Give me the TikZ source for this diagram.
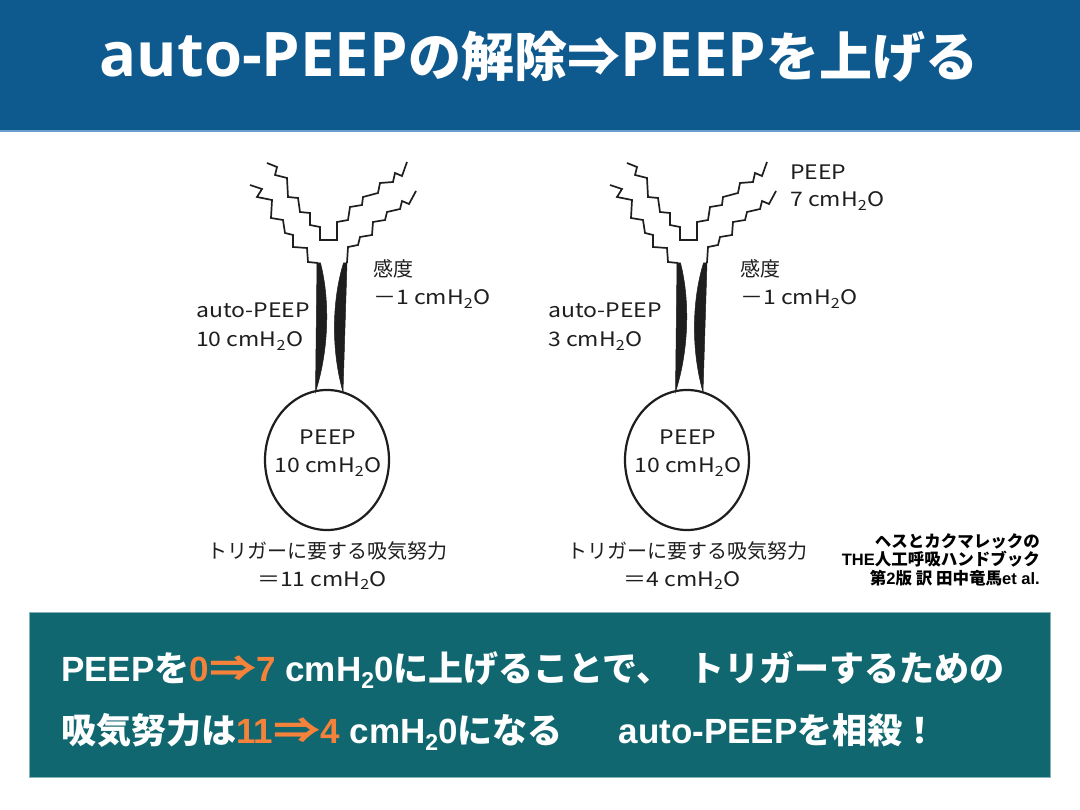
\documentclass[tikz,border=0pt]{standalone}
\usepackage{fontspec}
\setmainfont{Noto Sans CJK JP}
\newfontfamily\latf{Noto Sans CJK JP}[FakeStretch=1.15]
\newfontfamily\arf{Liberation Sans}
\newfontfamily\osf{Open Sans}
\usetikzlibrary{shapes.geometric}
\definecolor{hdr}{HTML}{0E5A8E}
\definecolor{hdrline}{HTML}{6A9FCB}
\definecolor{boxc}{HTML}{10676F}
\definecolor{boxline}{HTML}{86B3B8}
\definecolor{orng}{HTML}{F4823A}
\definecolor{ink}{HTML}{1E1E1E}
\newcommand\boxsub{\raisebox{-7pt}{\fontsize{23}{23}\selectfont\arf 2}}
\newcommand\widearrow{\scalebox{1.35}[1]{⇒}}
\newcommand\airway[1]{%
  \draw[zig] (250,185)--(262,189)--(257,197)--(272,200)--(271,218)--(283,220)--(285,233)--(293,235)--(293,247)--(307,248)--(308,262)--(318,263);
  \draw[zig] (267,163)--(277,167)--(275,175)--(287,178)--(288,197)--(298,198)--(300,212)--(310,213)--(310,225)--(320,227)--(320,240)--(337,240)--(337,222)--(348,220)--(350,207)--(362,205)--(363,197)--(378,193)--(380,183)--(393,182)--(395,173)--(402,176)--(407,162);
  \draw[zig] (347,263)--(348,247)--(358,245)--(360,237)--(372,235)--(373,222)--(385,220)--(387,212)--(400,209)--(402,201)--(409,204)--(416,191);
  \fill[lensfill] (317,263) -- (315.5,392) .. controls (329,350) and (330,300) .. (320.5,263) -- cycle;
  \fill[lensfill] (347,263) -- (343,392) .. controls (331,350) and (332,300) .. (343.5,263) -- cycle;
  \node[lung] (lung) at (327,460) {};
  \node[lblc] (lp) at (328,445) {\latf PEEP};
  \node[lblc] (lpv) at (328,473) {\latf 10 cmH\textsubscript{2}O};
  \node[lblc] (trig) at (327,558.5) {トリガーに要する吸気努力};
  \node[lblc] (trigv) at (322,586.5) {\latf ＝#1 cmH\textsubscript{2}O};
}
\begin{document}
\begin{tikzpicture}[x=1pt,y=-1pt,
  zig/.style={draw=ink, line width=1.7pt, line join=miter},
  lensfill/.style={fill=ink, draw=ink, line width=0.5pt},
  lung/.style={ellipse, draw=ink, line width=2.2pt, minimum width=124pt, minimum height=140pt, inner sep=0pt},
  lbl/.style={inner sep=0pt, anchor=base west, text=ink, font=\fontsize{20}{22}\selectfont},
  lblc/.style={lbl, anchor=base},
  cite/.style={inner sep=0pt, anchor=base east, text=black, font=\bfseries\fontsize{16.5}{18}\selectfont},
  boxtxt/.style={inner sep=0pt, anchor=base west, text=white, font=\bfseries\fontsize{35}{35}\selectfont}]
\useasboundingbox (0,0) rectangle (1080,810);
\fill[white] (0,0) rectangle (1080,810);
% header
\fill[hdr] (0,0) rectangle (1080,130);
\fill[hdrline] (0,130) rectangle (1080,132);
\node[inner sep=0pt, anchor=base, text=white, font=\bfseries\fontsize{53}{53}\selectfont] (title) at (539,77)
  {{\osf\fontsize{61.5}{61.5}\selectfont auto-PEEP}の解除⇒{\osf\fontsize{61.5}{61.5}\selectfont PEEP}を上げる};
% diagrams
\begin{scope}[name prefix=L-]
  \airway{11}
\end{scope}
\begin{scope}[xshift=360pt, name prefix=R-]
  \airway{4}
\end{scope}
% side labels left
\node[lbl] (sensL) at (373,277) {感度};
\node[lbl] (sensvL) at (373,305) {\latf －1 cmH\textsubscript{2}O};
\node[lbl] (apL) at (196,318) {\latf auto-PEEP};
\node[lbl] (apvL) at (196,347) {\latf 10 cmH\textsubscript{2}O};
% side labels right
\node[lbl] (peepR) at (790,180) {\latf PEEP};
\node[lbl] (peepvR) at (790,207) {\latf 7 cmH\textsubscript{2}O};
\node[lbl] (sensR) at (740,277) {感度};
\node[lbl] (sensvR) at (740,305) {\latf －1 cmH\textsubscript{2}O};
\node[lbl] (apR) at (548,318) {\latf auto-PEEP};
\node[lbl] (apvR) at (548,347) {\latf 3 cmH\textsubscript{2}O};
% citation
\node[cite] (c1) at (1040,547) {ヘスとカクマレックの};
\node[cite] (c2) at (1040,565.5) {{\arf THE}人工呼吸ハンドブック};
\node[cite] (c3) at (1040,584) {第{\arf 2}版 訳 田中竜馬{\arf et al.}};
% bottom box
\filldraw[fill=boxc, draw=boxline, line width=0.8pt] (29,612) rectangle (1050,777);
\node[boxtxt] (b1) at (61,681) {{\arf PEEP}を\textcolor{orng}{{\arf 0}\widearrow{\arf 7}}{\arf\ cmH}\boxsub{\arf 0}に上げることで、\hspace{18pt}トリガーするための};
\node[boxtxt] (b2) at (61,743) {吸気努力は\textcolor{orng}{{\arf 11}\widearrow{\arf 4}}{\arf\ cmH}\boxsub{\arf 0}になる\hspace{56pt}{\arf auto-PEEP}を相殺！};
\end{tikzpicture}
\end{document}
